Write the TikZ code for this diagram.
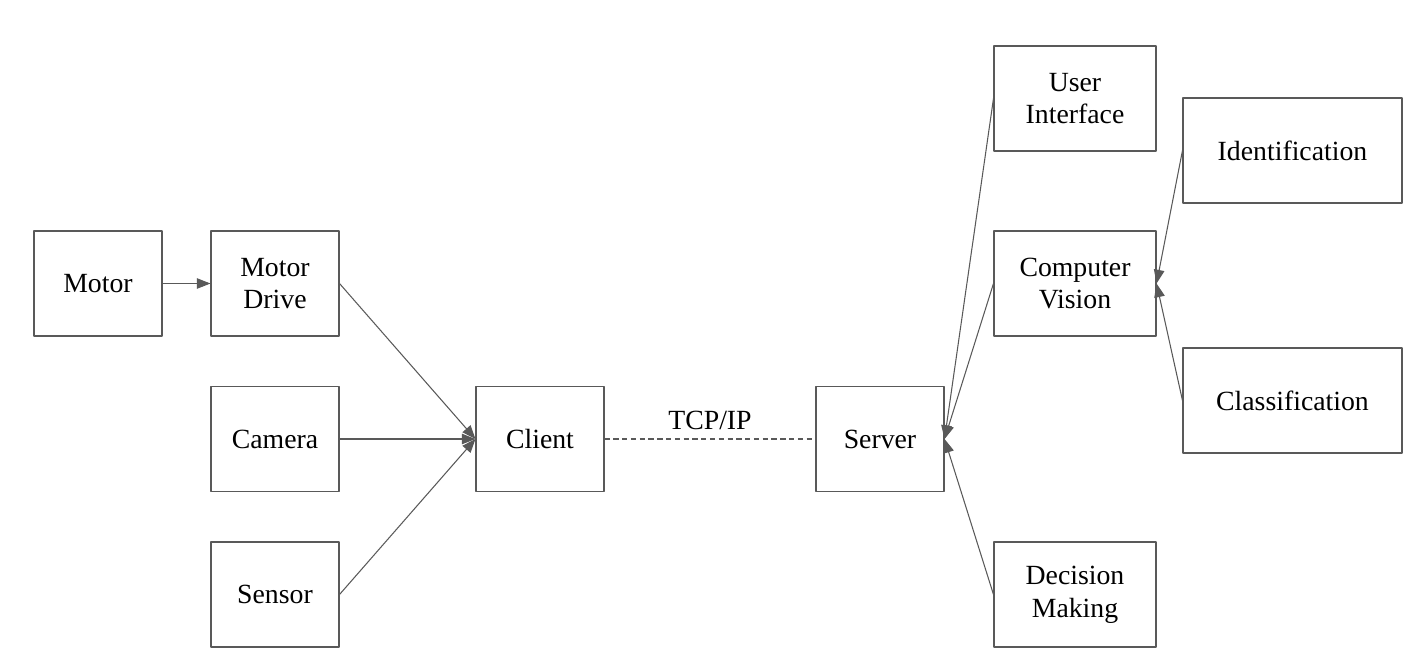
\documentclass[tikz,border=0pt]{standalone}
\usepackage{fontspec}
\setmainfont{Liberation Serif}
\usetikzlibrary{arrows.meta}
\definecolor{linegray}{HTML}{595959}
\tikzset{
	blk/.style={draw=linegray,line width=0.6pt,inner sep=0pt,align=center,minimum width=128*0.02cm,minimum height=105*0.02cm,font=\fontsize{15.8}{18.6}\selectfont},
	wideblk/.style={blk,minimum width=162*0.02cm},
	widerblk/.style={blk,minimum width=219*0.02cm},
	link/.style={draw=linegray,line width=0.6pt,->}
}

\begin{document}
\begin{tikzpicture}[line join=round,>={Triangle[length=7.8pt,width=6pt]},x=0.02cm,y=-0.02cm]
		\useasboundingbox (0,0) rectangle (1416,667);
		% left side
		\node[blk] (motor) at (98,283.5) {Motor};
		\node[blk] (mdrive) at (275,283.5) {Motor\\Drive};
		\node[blk] (camera) at (275,439) {Camera};
		\node[blk] (sensor) at (275,594.5) {Sensor};
		\node[blk] (client) at (540,439) {Client};
		% right side
		\node[blk] (server) at (880,439) {Server};
		\node[wideblk] (ui) at (1075,98.5) {User\\Interface};
		\node[wideblk] (cv) at (1075,283.5) {Computer\\Vision};
		\node[wideblk] (dm) at (1075,594.5) {Decision\\Making};
		\node[widerblk] (ident) at (1292.5,150.5) {Identification};
		\node[widerblk] (classif) at (1292.5,400.5) {Classification};
		% connectors
		\draw [link] (motor.east) -- (mdrive.west);
		\draw [link] (mdrive.east) -- (client.west);
		\draw [link] (camera.east) -- (client.west);
		\draw [link] (sensor.east) -- (client.west);
		\draw [draw=linegray,line width=0.6pt,dash pattern=on 3pt off 2pt] (client.east) -- node[above=1.5pt,font=\fontsize{15.8}{18.6}\selectfont] (tcp) {TCP/IP} (server.west);
		\draw [link] (ui.west) -- (server.east);
		\draw [link] (cv.west) -- (server.east);
		\draw [link] (dm.west) -- (server.east);
		\draw [link] (ident.west) -- (cv.east);
		\draw [link] (classif.west) -- (cv.east);
	\end{tikzpicture}
\end{document}
